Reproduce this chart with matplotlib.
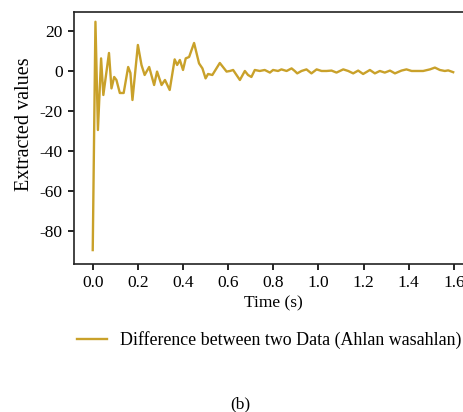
import matplotlib
matplotlib.use("Agg")
import matplotlib.pyplot as plt

# Values
time_s = [0.0, 0.012, 0.023, 0.037, 0.047, 0.072, 0.083, 0.095, 0.105, 0.12,
          0.137, 0.157, 0.167, 0.176, 0.2, 0.216, 0.23, 0.25, 0.272, 0.285,
          0.305, 0.32, 0.341, 0.363, 0.374, 0.386, 0.4, 0.412, 0.427, 0.449,
          0.471, 0.486, 0.5, 0.511, 0.53, 0.563, 0.593, 0.608, 0.622, 0.652,
          0.674, 0.688, 0.703, 0.718, 0.74, 0.762, 0.785, 0.799, 0.821, 0.836,
          0.859, 0.881, 0.895, 0.906, 0.925, 0.947, 0.969, 0.992, 1.014, 1.036,
          1.058, 1.08, 1.11, 1.132, 1.154, 1.176, 1.198, 1.228, 1.25, 1.272,
          1.294, 1.317, 1.339, 1.368, 1.39, 1.413, 1.435, 1.464, 1.494, 1.516,
          1.538, 1.56, 1.575, 1.597]
diff_values = [-89.5, 24.6, -29.5, 6.3, -12.0, 9.0, -8.7, -3.0, -4.5, -11.0,
               -11.0, 2.0, -1.0, -14.5, 13.0, 3.0, -2.0, 2.0, -7.0, -0.3,
               -7.0, -4.5, -9.5, 5.8, 3.0, 5.5, 0.5, 6.3, 7.0, 14.0,
               3.8, 1.3, -3.7, -1.5, -2.0, 4.0, -0.3, 0.0, 0.5, -4.5,
               0.0, -2.0, -3.0, 0.5, 0.0, 0.5, -0.8, 0.5, 0.0, 0.8,
               0.0, 1.3, 0.0, -1.2, 0.0, 0.8, -1.2, 0.8, 0.0, 0.0,
               0.2, -0.8, 0.8, 0.0, -1.2, 0.2, -1.5, 0.5, -1.2, 0.0,
               -0.8, 0.2, -1.2, 0.2, 0.8, 0.0, 0.0, 0.0, 0.8, 1.7,
               0.5, 0.0, 0.3, -0.6]
x_ticks = [0.0, 0.2, 0.4, 0.6, 0.8, 1.0, 1.2, 1.4, 1.6]
y_ticks = [20, 0, -20, -40, -60, -80]
legend_label = "Difference between two Data (Ahlan wasahlan)"

plt.rcParams['font.family'] = ['Liberation Serif', 'DejaVu Serif']

fig = plt.figure(figsize=(4.64, 4.12), dpi=100)
ax = fig.add_axes([0.159, 0.359, 0.86, 0.612])

line, = ax.plot(time_s, diff_values, color='#C9A12A', lw=1.7)

ax.set_xlim(-0.084, 1.684)
ax.set_ylim(-96.5, 29.5)
ax.set_xticks(x_ticks)
ax.set_xticklabels([f"{v:.1f}" for v in x_ticks])
ax.set_yticks(y_ticks)
ax.set_yticklabels([str(v) for v in y_ticks])
ax.tick_params(labelsize=12.5, length=4, width=1.2, direction='out', pad=4)
ax.spines['right'].set_visible(False)
for s in ['left', 'top', 'bottom']:
    ax.spines[s].set_linewidth(1.2)
    ax.spines[s].set_color('#222222')

ax.set_xlabel("Time (s)", fontsize=12.5, labelpad=3)
ax.set_ylabel("Extracted values", fontsize=14.5)
ax.yaxis.set_label_coords(-0.10, 0.556)

fig.legend([line], [legend_label], loc='center left', bbox_to_anchor=(0.166, 0.175),
           frameon=False, fontsize=12.9, handlelength=1.7, handletextpad=0.72,
           borderpad=0, borderaxespad=0)

fig.text(0.517, 0.019, "(b)", fontsize=12.5, ha='center', va='center')

fig.savefig("out.png", dpi=100)
